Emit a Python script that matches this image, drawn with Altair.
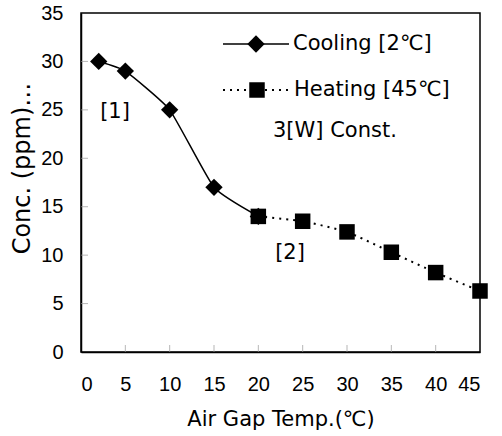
import altair as alt
import pandas as pd

# ---- data ----
cool_x = [2, 5, 10, 15, 20]
cool_y = [30, 29, 25, 17, 14]
heat_x = [20, 25, 30, 35, 40, 45]
heat_y = [14, 13.5, 12.4, 10.3, 8.2, 6.3]
x_ticks = [0, 5, 10, 15, 20, 25, 30, 35, 40, 45]
y_ticks = [0, 5, 10, 15, 20, 25, 30, 35]

cool = pd.DataFrame({"x": cool_x, "y": cool_y})
heat = pd.DataFrame({"x": heat_x, "y": heat_y})
xt = pd.DataFrame({"v": x_ticks[1:-1]})
yt = pd.DataFrame({"v": y_ticks[1:-1]})
one = alt.Data(values=[{"a": 1}])

W, H = 399, 339
TXT = "DejaVu Sans"
NUM = "Liberation Sans"
DSIZE = 300
SSIZE = 240

xs = alt.Scale(domain=[0, 45], nice=False)
ys = alt.Scale(domain=[0, 35], nice=False)

xax = alt.Axis(values=x_ticks, ticks=False, grid=False, labelFont=NUM, labelFontSize=20,
               labelColor="black", labelPadding=22, domainColor="black", domainWidth=1.5,
               title="Air Gap Temp.(℃)", titleFont=TXT, titleFontSize=21, titleFontWeight="normal",
               titleColor="black", titleY=67, titleBaseline="middle")
yax = alt.Axis(values=y_ticks, ticks=False, grid=False, labelFont=NUM, labelFontSize=20,
               labelColor="black", labelPadding=18, domainColor="black", domainWidth=1.5,
               title="Conc. (ppm)…", titleFont=TXT, titleFontSize=24, titleFontWeight="normal",
               titleColor="black", titleX=-59, titleY=155, titleAngle=270,
               titleBaseline="middle", titleAlign="center")

base_c = alt.Chart(cool)
base_h = alt.Chart(heat)

cool_line = base_c.mark_line(color="black", strokeWidth=1.5, interpolate="cardinal", tension=0.55).encode(
    x=alt.X("x:Q", scale=xs, axis=xax), y=alt.Y("y:Q", scale=ys, axis=yax))
cool_pts = base_c.mark_point(shape="diamond", filled=True, color="black", size=DSIZE, opacity=1).encode(
    x=alt.X("x:Q", scale=xs), y=alt.Y("y:Q", scale=ys))
heat_line = base_h.mark_line(color="black", strokeWidth=2, strokeDash=[2, 5], interpolate="cardinal",
                             tension=0.55).encode(
    x=alt.X("x:Q", scale=xs), y=alt.Y("y:Q", scale=ys))
heat_pts = base_h.mark_point(shape="square", filled=True, color="black", size=SSIZE, opacity=1).encode(
    x=alt.X("x:Q", scale=xs), y=alt.Y("y:Q", scale=ys))

ytick = alt.Chart(yt).mark_tick(orient="horizontal", color="#999", thickness=1, size=7).encode(
    y=alt.Y("v:Q", scale=ys), x=alt.value(3.5))
xtick = alt.Chart(xt).mark_tick(orient="vertical", color="#999", thickness=1, size=7).encode(
    x=alt.X("v:Q", scale=xs), y=alt.value(H - 3.5))

# legend (manual)
leg_c_line = alt.Chart(one).mark_rule(color="black", strokeWidth=1.5).encode(
    x=alt.value(142), x2=alt.value(208), y=alt.value(31))
leg_c_pt = alt.Chart(one).mark_point(shape="diamond", filled=True, color="black", size=DSIZE, opacity=1).encode(
    x=alt.value(175), y=alt.value(31))
leg_c_txt = alt.Chart(one).mark_text(text="Cooling [2℃]", font=TXT, fontSize=21, align="left",
                                     baseline="middle", color="black").encode(
    x=alt.value(212), y=alt.value(31))
leg_h_line = alt.Chart(one).mark_rule(color="black", strokeWidth=2, strokeDash=[2, 5]).encode(
    x=alt.value(142), x2=alt.value(210), y=alt.value(77))
leg_h_pt = alt.Chart(one).mark_point(shape="square", filled=True, color="black", size=SSIZE, opacity=1).encode(
    x=alt.value(176), y=alt.value(77))
leg_h_txt = alt.Chart(one).mark_text(text="Heating [45℃]", font=TXT, fontSize=21, align="left",
                                     baseline="middle", color="black").encode(
    x=alt.value(213), y=alt.value(77))
leg_w_txt = alt.Chart(one).mark_text(text="3[W] Const.", font=TXT, fontSize=21, align="left",
                                     baseline="middle", color="black").encode(
    x=alt.value(192), y=alt.value(118))

ann1 = alt.Chart(one).mark_text(text="[1]", font=TXT, fontSize=21, align="center",
                                baseline="middle", color="black").encode(
    x=alt.value(34), y=alt.value(99))
ann2 = alt.Chart(one).mark_text(text="[2]", font=TXT, fontSize=21, align="center",
                                baseline="middle", color="black").encode(
    x=alt.value(209), y=alt.value(240))

chart = alt.layer(
    cool_line, heat_line, cool_pts, heat_pts, ytick, xtick,
    leg_c_line, leg_c_pt, leg_c_txt, leg_h_line, leg_h_pt, leg_h_txt, leg_w_txt,
    ann1, ann2,
).properties(
    width=W, height=H,
    autosize=alt.AutoSizeParams(type="none"),
    padding={"left": 81, "top": 13, "right": 22, "bottom": 84},
    background="white",
).configure_view(stroke="black", strokeWidth=1.5)

chart.save("out.html", embed_options={"renderer": "svg", "actions": False})
